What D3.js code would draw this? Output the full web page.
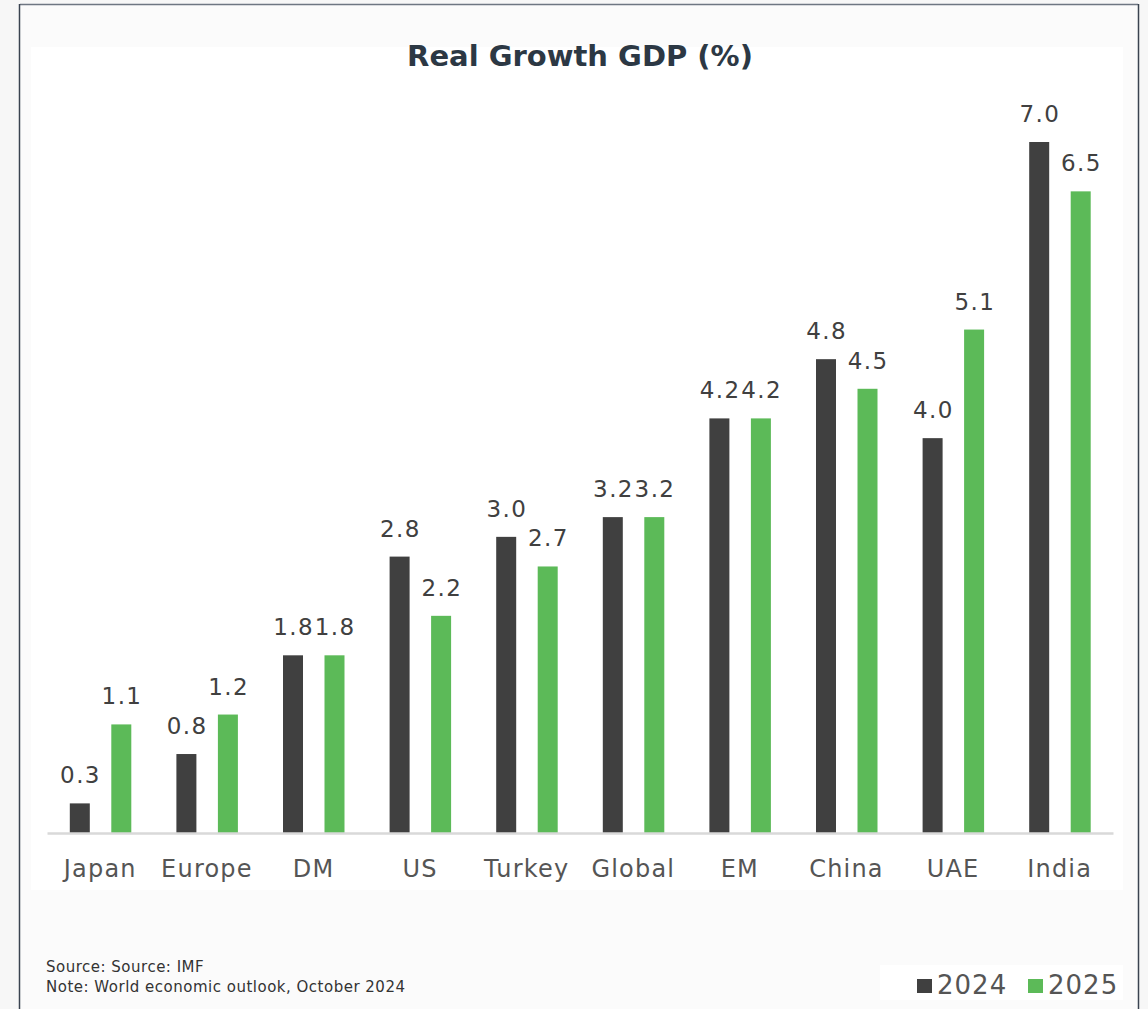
<!DOCTYPE html>
<html>
<head>
<meta charset="utf-8">
<script src="https://cdn.jsdelivr.net/npm/d3@7"></script>
<style>
  html, body { margin: 0; padding: 0; background: #f7f7f7; }
  svg { display: block; }
</style>
</head>
<body>
<svg id="chart" width="1148" height="1009"></svg>
<script>
// Real GDP growth, IMF WEO October 2024
const categories = ["Japan", "Europe", "DM", "US", "Turkey", "Global", "EM", "China", "UAE", "India"];
const growth2024 = [0.3, 0.8, 1.8, 2.8, 3.0, 3.2, 4.2, 4.8, 4.0, 7.0];
const growth2025 = [1.1, 1.2, 1.8, 2.2, 2.7, 3.2, 4.2, 4.5, 5.1, 6.5];
const seriesNames = ["2024", "2025"];
const seriesColors = ["#404040", "#5cba58"];

const W = 1148, H = 1009;
const svg = d3.select("#chart");
const FONT = "'DejaVu Sans', sans-serif";

// outer frame and panels
svg.append("rect").attr("x", 0).attr("y", 0).attr("width", W).attr("height", H).attr("fill", "#f7f7f7");
svg.append("rect").attr("x", 20).attr("y", 4).attr("width", 1118).attr("height", H).attr("fill", "#fbfbfb");
svg.append("rect").attr("x", 31).attr("y", 47).attr("width", 1092).attr("height", 843).attr("fill", "#ffffff");
svg.append("rect").attr("x", 880).attr("y", 965).attr("width", 243).attr("height", 35).attr("fill", "#ffffff");
svg.append("line").attr("x1", 20).attr("x2", 1138).attr("y1", 4.5).attr("y2", 4.5)
  .attr("stroke", "#6e7682").attr("stroke-width", 1.5);
svg.append("line").attr("x1", 19.5).attr("x2", 19.5).attr("y1", 4).attr("y2", H)
  .attr("stroke", "#3a4350").attr("stroke-width", 1.5);
svg.append("line").attr("x1", 1138.5).attr("x2", 1138.5).attr("y1", 4).attr("y2", H)
  .attr("stroke", "#3a4350").attr("stroke-width", 1.5);

// title
svg.append("text")
  .attr("x", 580).attr("y", 66)
  .attr("text-anchor", "middle")
  .attr("font-family", FONT).attr("font-weight", "bold").attr("font-size", 29)
  .attr("fill", "#2c3844")
  .text("Real Growth GDP (%)");

// scales
const x = d3.scaleBand().domain(categories).range([47, 1113]).padding(0);
const y = d3.scaleLinear().domain([0, 7]).range([833, 142]);
const barW = 20;
const offsets = [-20.5, 21];

const rows = categories.map((c, i) => ({ cat: c, vals: [growth2024[i], growth2025[i]] }));

const groups = svg.append("g").selectAll("g")
  .data(rows).join("g")
  .attr("transform", d => `translate(${x(d.cat) + x.bandwidth() / 2},0)`);

seriesNames.forEach((s, si) => {
  groups.append("rect")
    .attr("x", offsets[si] - barW / 2)
    .attr("width", barW)
    .attr("y", d => y(d.vals[si]))
    .attr("height", d => y(0) - y(d.vals[si]))
    .attr("fill", seriesColors[si]);
  groups.append("text")
    .attr("x", offsets[si] + 0.7)
    .attr("y", d => y(d.vals[si]) - 20)
    .attr("text-anchor", "middle")
    .attr("font-family", FONT).attr("font-size", 23)
    .attr("letter-spacing", "1.4px")
    .attr("fill", "#404040")
    .text(d => d3.format(".1f")(d.vals[si]));
});

// baseline axis
const xAxis = d3.axisBottom(x).tickSize(0).tickPadding(27);
const ax = svg.append("g").attr("transform", `translate(0,${y(0)})`).call(xAxis);
ax.select(".domain").attr("stroke", "#d9d9d9").attr("stroke-width", 2.5);
ax.selectAll(".tick text")
  .attr("font-family", FONT).attr("font-size", 24)
  .attr("letter-spacing", "1.2px")
  .attr("fill", "#555555");

// source note
const notes = ["Source: Source: IMF", "Note: World economic outlook, October 2024"];
svg.append("g").selectAll("text").data(notes).join("text")
  .attr("x", 46).attr("y", (d, i) => 972 + i * 19.5)
  .attr("font-family", FONT).attr("font-size", 15)
  .attr("letter-spacing", "0.5px")
  .attr("fill", "#333333")
  .text(d => d);

// legend
const legendX = [917, 1028];
const lg = svg.append("g").selectAll("g").data(seriesNames).join("g")
  .attr("transform", (d, i) => `translate(${legendX[i]},0)`);
lg.append("rect").attr("x", 0).attr("y", 979).attr("width", 15).attr("height", 14)
  .attr("fill", (d, i) => seriesColors[i]);
lg.append("text").attr("x", 20).attr("y", 994)
  .attr("font-family", FONT).attr("font-size", 26)
  .attr("letter-spacing", "1px")
  .attr("fill", "#555555")
  .text(d => d);
</script>
</body>
</html>
